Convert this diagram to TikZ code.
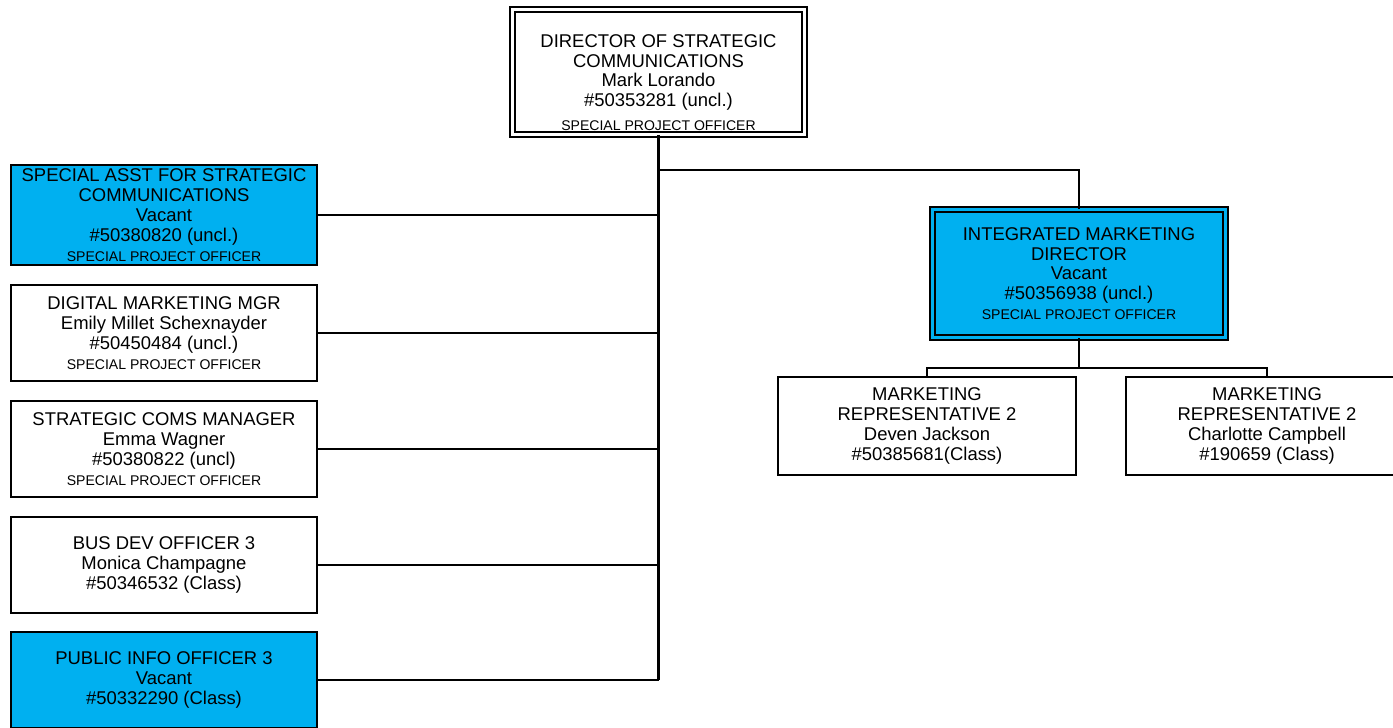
\documentclass[tikz,border=0pt]{standalone}
\usepackage{fontspec}
\setmainfont{Liberation Sans}
\usepackage{tikz}
\definecolor{vacantblue}{RGB}{0,176,240}
\newcommand{\spo}{{\fontsize{8}{10}\selectfont SPECIAL PROJECT OFFICER}}

\begin{document}
\begin{tikzpicture}[x=0.02cm, y=-0.02cm,
		every node/.style={font=\fontsize{10.5}{11.3}\selectfont},
		post/.style={draw, line width=1pt, rectangle, align=center, inner sep=0pt, minimum width=6.12cm, minimum height=1.92cm},
		vacant/.style={fill=vacantblue},
		headpost/.style={double, double distance=2pt, line width=0.8pt},
		link/.style={line width=1pt}]
	\useasboundingbox (0,0) rectangle (1393,727);

	% Top of the chart
	\node[post, headpost, minimum width=5.84cm, minimum height=2.5cm] (director) at (658.5,72)
		{\rule{0pt}{19pt}DIRECTOR OF STRATEGIC\\COMMUNICATIONS\\Mark Lorando\\\#50353281 (uncl.)\\[2pt]\spo};

	% Left column
	\node[post, vacant, minimum height=2cm] (sasst) at (164,215)
		{SPECIAL ASST FOR STRATEGIC\\COMMUNICATIONS\\Vacant\\\#50380820 (uncl.)\\\spo};
	\node[post] (digital) at (164,333)
		{DIGITAL MARKETING MGR\\Emily Millet Schexnayder\\\#50450484 (uncl.)\\\spo};
	\node[post] (stratcoms) at (164,449)
		{STRATEGIC COMS MANAGER\\Emma Wagner\\\#50380822 (uncl)\\\spo};
	\node[post] (busdev) at (164,565)
		{BUS DEV OFFICER 3\\Monica Champagne\\\#50346532 (Class)};
	\node[post, vacant] (pubinfo) at (164,680)
		{PUBLIC INFO OFFICER 3\\Vacant\\\#50332290 (Class)};

	% Right branch
	\node[post, headpost, vacant, double=vacantblue, minimum width=5.86cm, minimum height=2.56cm] (integ) at (1079,273.5)
		{INTEGRATED MARKETING\\DIRECTOR\\Vacant\\\#50356938 (uncl.)\\\spo};
	\node[post, minimum width=5.96cm, minimum height=1.96cm] (rep1) at (927,426)
		{MARKETING\\REPRESENTATIVE 2\\Deven Jackson\\\#50385681(Class)};
	\node[post, minimum width=5.64cm, minimum height=1.96cm] (rep2) at (1267,426)
		{MARKETING\\REPRESENTATIVE 2\\Charlotte Campbell\\\#190659 (Class)};

	% Connectors
	\coordinate (trunkend) at (658.5,680);
	\coordinate (split) at (658.5,170);
	\coordinate (repsplit) at (1079,368);
	\draw[link, line width=1.4pt] (director.south) -- (trunkend);
	\foreach \p in {sasst,digital,stratcoms,busdev,pubinfo}
		\draw[link] (\p.east) -- (\p.east -| trunkend);
	\draw[link] (split) -| (integ.north);
	\draw[link] (integ.south) -- (repsplit);
	\draw[link] (rep1.north) |- (repsplit) -| (rep2.north);
\end{tikzpicture}
\end{document}
